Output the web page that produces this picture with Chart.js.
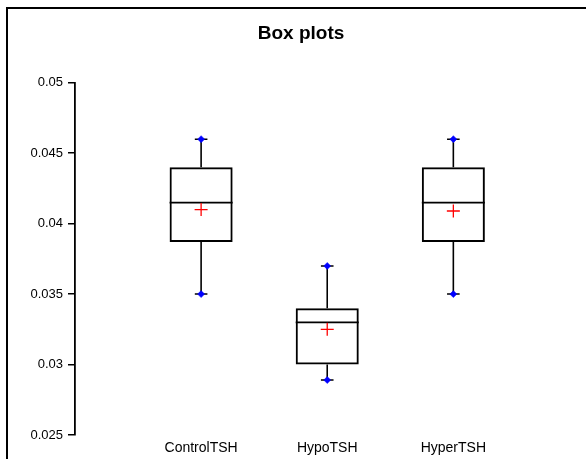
<!DOCTYPE html>
<html>
<head>
<meta charset="utf-8">
<script src="https://cdn.jsdelivr.net/npm/chart.js@4/dist/chart.umd.min.js"></script>
<style>
  html, body { margin: 0; padding: 0; background: #fff; }
  #wrap { position: relative; width: 586px; height: 459px; overflow: hidden; }
  #frame { position: absolute; left: 6px; top: 7px; width: 700px; height: 600px;
           border-top: 2px solid #000; border-left: 2px solid #000; pointer-events: none; }
  canvas { position: absolute; left: 0; top: 0; }
</style>
</head>
<body>
<div id="wrap">
  <canvas id="c" width="586" height="459"></canvas>
  <div id="frame"></div>
</div>
<script>
const categories  = ['ControlTSH', 'HypoTSH', 'HyperTSH'];
const whiskerLow  = [0.0350, 0.0289, 0.0350];
const q1          = [0.0387, 0.0300, 0.0387];
const medians     = [0.0415, 0.0330, 0.0415];
const q3          = [0.0440, 0.0340, 0.0440];
const whiskerHigh = [0.0460, 0.0370, 0.0460];
const means       = [0.0410, 0.0325, 0.0409];
const yTicks      = [0.025, 0.03, 0.035, 0.04, 0.045, 0.05];

const FONT = "'Liberation Sans', Arial, sans-serif";
const pos = categories.map((c, i) => i + 1);

const boxData = pos.map((x, i) => ({ x, y: [q1[i], q3[i]] }));
const whiskerData = [];
const medianData = [];
const capData = [];
const endPoints = [];
pos.forEach((x, i) => {
  whiskerData.push({ x, y: q3[i] }, { x, y: whiskerHigh[i] }, { x, y: null },
                   { x, y: q1[i] }, { x, y: whiskerLow[i] }, { x, y: null });
  medianData.push({ x: x - 0.25, y: medians[i] }, { x: x + 0.25, y: medians[i] }, { x, y: null });
  capData.push({ x: x - 0.05, y: whiskerHigh[i] }, { x: x + 0.05, y: whiskerHigh[i] }, { x, y: null },
               { x: x - 0.05, y: whiskerLow[i] }, { x: x + 0.05, y: whiskerLow[i] }, { x, y: null });
  endPoints.push({ x, y: whiskerHigh[i] }, { x, y: whiskerLow[i] });
});
const meanData = pos.map((x, i) => ({ x, y: means[i] }));

new Chart(document.getElementById('c'), {
  type: 'bar',
  data: {
    datasets: [
      { type: 'line', data: meanData, showLine: false, pointStyle: 'cross',
        pointRadius: 6.5, pointBorderColor: '#ff0000', pointBorderWidth: 1.3, order: 0 },
      { type: 'line', data: endPoints, showLine: false, pointStyle: 'rectRot',
        pointRadius: 3.5, pointBackgroundColor: '#0000ff', pointBorderColor: '#0000ff',
        pointBorderWidth: 0.5, order: 1 },
      { type: 'line', data: capData, borderColor: '#000', borderWidth: 1.5,
        pointRadius: 0, spanGaps: false, order: 2 },
      { type: 'line', data: whiskerData, borderColor: '#000', borderWidth: 1.6,
        pointRadius: 0, spanGaps: false, order: 2 },
      { type: 'line', data: medianData, borderColor: '#000', borderWidth: 1.8,
        pointRadius: 0, spanGaps: false, order: 2 },
      { type: 'bar', data: boxData, backgroundColor: 'rgba(255,255,255,0)',
        borderColor: '#000', borderWidth: 2, borderSkipped: false,
        barPercentage: 0.5, categoryPercentage: 1, order: 3 }
    ]
  },
  options: {
    responsive: false,
    animation: false,
    events: [],
    layout: { padding: { left: 16, right: 0, top: 0, bottom: 2 } },
    plugins: {
      legend: { display: false },
      tooltip: { enabled: false },
      title: {
        display: true, text: 'Box plots', color: '#000',
        font: { family: FONT, size: 19, weight: 'bold' },
        padding: { top: 22, bottom: 38 }
      }
    },
    scales: {
      x: {
        type: 'linear', min: 0, max: 3.99, offset: false,
        grid: { display: false, drawTicks: false, tickLength: 0 }, border: { display: false },
        afterBuildTicks: s => { s.ticks = pos.map(v => ({ value: v })); },
        afterFit: s => { s.height = 22; },
        ticks: {
          color: '#000', padding: 5, maxRotation: 0, autoSkip: false,
          font: { family: FONT, size: 14 },
          callback: v => categories[v - 1] || ''
        }
      },
      y: {
        type: 'linear', min: 0.025, max: 0.05,
        afterFit: s => { s.width = 59; },
        afterBuildTicks: s => { s.ticks = yTicks.map(v => ({ value: v })); },
        grid: { display: true, drawOnChartArea: false, drawTicks: true, tickLength: 7,
                color: '#000', lineWidth: 1.5 },
        border: { display: true, color: '#000', width: 1.8 },
        ticks: { color: '#000', padding: 5, font: { family: FONT, size: 13 },
                 callback: v => String(v) }
      }
    }
  }
});
</script>
</body>
</html>
